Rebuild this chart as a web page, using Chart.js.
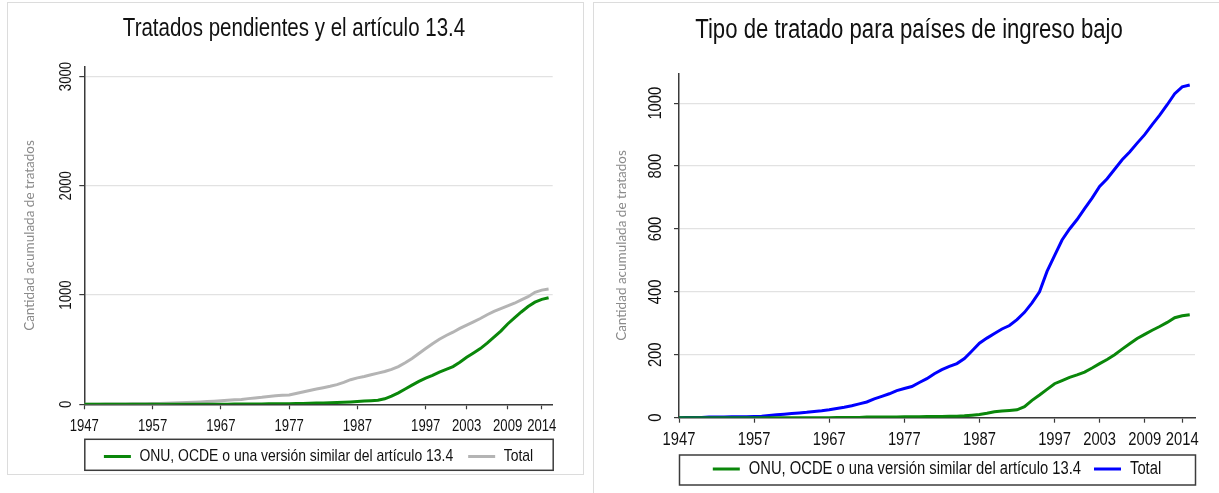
<!DOCTYPE html>
<html>
<head>
<meta charset="utf-8">
<script src="https://cdn.jsdelivr.net/npm/chart.js@4.4.0/dist/chart.umd.min.js"></script>
<style>
  html, body { margin: 0; padding: 0; background: #ffffff; width: 1219px; height: 493px; overflow: hidden; position: relative; }
  .panel { position: absolute; border: 1px solid #dcdcdc; box-sizing: border-box; pointer-events: none; }
  canvas { position: absolute; }
</style>
</head>
<body>
<div class="panel" style="left:7px; top:2px; width:577px; height:473px;"></div>
<div class="panel" style="left:593px; top:2px; width:640px; height:500px;"></div>
<canvas id="left" width="576" height="480" style="left:7px; top:2px;"></canvas>
<canvas id="right" width="626" height="491" style="left:593px; top:2px;"></canvas>
<script>
// ---------------- DATA ----------------
const years = [];
for (let y = 1947; y <= 2015; y++) years.push(y);

const xTickLabels = [1947, 1957, 1967, 1977, 1987, 1997, 2003, 2009, 2014];
const yTicksLeft = [0, 1000, 2000, 3000];
const yTicksRight = [0, 200, 400, 600, 800, 1000];

const seriesLabels = ['ONU, OCDE o una versión similar del artículo 13.4', 'Total'];
const titleLeft = 'Tratados pendientes y el artículo 13.4';
const titleRight = 'Tipo de tratado para países de ingreso bajo';
const yAxisTitle = 'Cantidad acumulada de tratados';

// Left chart: pending treaties (1947..2015)
const leftArticle = [
  0,0,0,0,0,0,0,0,0,0,          // 1947-1956
  0,0,0,0,0,0,0,0,0,1,          // 1957-1966
  1,1,2,2,2,3,3,4,4,5,          // 1967-1976
  6,7,8,10,11,12,14,16,19,22,   // 1977-1986
  26,30,33,37,50,75,105,140,175,210, // 1987-1996
  240,265,295,320,345,385,430,470,510,560, // 1997-2006
  615,670,735,790,845,895,935,960,975      // 2007-2015
];
const leftTotal = [
  0,1,1,2,2,3,3,4,5,6,          // 1947-1956
  7,8,10,12,14,16,19,22,25,29,  // 1957-1966
  33,37,41,45,52,58,64,72,78,82,// 1967-1976
  85,98,112,126,140,152,165,180,200,225, // 1977-1986
  242,255,270,285,300,320,345,380,420,465, // 1987-1996
  510,555,595,630,660,695,725,755,785,820, // 1997-2006
  850,875,900,925,955,985,1025,1045,1055   // 2007-2015
];

// Right chart: low income countries (1947..2015)
const rightArticle = [
  0,0,0,0,0,0,0,0,0,0,          // 1947-1956
  0,0,0,0,0,0,0,0,0,0,          // 1957-1966
  0,1,1,1,1,2,2,2,2,2,          // 1967-1976
  3,3,3,4,4,4,5,5,6,8,          // 1977-1986
  10,14,19,21,23,25,35,55,72,90,// 1987-1996
  108,118,128,136,145,158,172,185,200,218, // 1997-2006
  235,252,265,278,290,303,318,324,327      // 2007-2015
];
const rightTotal = [
  0,1,1,1,2,2,2,3,3,3,          // 1947-1956
  4,5,7,9,11,13,15,17,20,22,    // 1957-1966
  25,29,33,38,44,50,60,68,76,86,// 1967-1976
  93,99,112,124,140,153,163,172,188,212, // 1977-1986
  237,253,268,282,293,312,335,365,400,465, // 1987-1996
  515,565,600,630,665,698,735,760,790,820, // 1997-2006
  845,873,900,932,962,995,1030,1052,1058   // 2007-2015
];

// ---------------- NARROW TEXT (emulates Arial Narrow look) ----------------
const K = 0.82;
(function () {
  const P = CanvasRenderingContext2D.prototype;
  const origFill = P.fillText, origMeasure = P.measureText;
  const isNarrow = ctx => ctx.font.indexOf('Liberation Sans') !== -1;
  P.fillText = function (text, x, y, maxWidth) {
    if (!isNarrow(this)) return arguments.length > 3 ? origFill.call(this, text, x, y, maxWidth) : origFill.call(this, text, x, y);
    this.save();
    this.translate(x, y);
    this.scale(K, 1);
    if (arguments.length > 3 && maxWidth !== undefined) origFill.call(this, text, 0, 0, maxWidth / K);
    else origFill.call(this, text, 0, 0);
    this.restore();
  };
  P.measureText = function (text) {
    const m = origMeasure.call(this, text);
    if (!isNarrow(this)) return m;
    return {
      width: m.width * K,
      actualBoundingBoxLeft: m.actualBoundingBoxLeft * K,
      actualBoundingBoxRight: m.actualBoundingBoxRight * K,
      actualBoundingBoxAscent: m.actualBoundingBoxAscent,
      actualBoundingBoxDescent: m.actualBoundingBoxDescent,
      fontBoundingBoxAscent: m.fontBoundingBoxAscent,
      fontBoundingBoxDescent: m.fontBoundingBoxDescent
    };
  };
})();

// ---------------- STYLE / BUILD ----------------
const NARROW = "'Liberation Sans', Arial, sans-serif";
const GREEN = '#0a870a';
const GRAY = '#b4b4b4';
const BLUE = '#0000ff';
const AXIS = '#3a3a3a';

const toXY = arr => arr.map((v, i) => ({ x: years[i], y: v }));

const legendBox = {
  id: 'legendBox',
  afterDraw(chart, args, opts) {
    const { ctx, chartArea, legend } = chart;
    const top = legend.top + opts.dy;
    ctx.save();
    ctx.strokeStyle = '#3c3c3c';
    ctx.lineWidth = 1.5;
    ctx.strokeRect(chartArea.left + 0.5, top, chartArea.right - chartArea.left, opts.h);
    ctx.restore();
  }
};

function makeChart(id, cfg) {
  return new Chart(document.getElementById(id), {
    type: 'line',
    data: {
      datasets: [
        { label: seriesLabels[0], data: toXY(cfg.article), borderColor: GREEN, backgroundColor: GREEN, borderWidth: 3, pointRadius: 0, tension: 0 },
        { label: seriesLabels[1], data: toXY(cfg.total), borderColor: cfg.totalColor, backgroundColor: cfg.totalColor, borderWidth: 3, pointRadius: 0, tension: 0 }
      ]
    },
    options: {
      responsive: false,
      animation: false,
      devicePixelRatio: 1,
      layout: { padding: { left: cfg.padLeft, right: cfg.padRight, top: 0, bottom: cfg.padBottom } },
      plugins: {
        title: {
          display: true, text: cfg.title, color: '#111',
          font: { family: NARROW, size: cfg.titleSize, weight: 'normal', lineHeight: 1.2 },
          padding: { top: cfg.titlePadTop, bottom: cfg.titlePadBottom }
        },
        legend: {
          position: 'bottom', fullSize: false,
          labels: {
            usePointStyle: true, pointStyle: 'line', pointStyleWidth: 27,
            color: '#111', padding: cfg.legendPad,
            font: { family: NARROW, size: cfg.legendSize }
          }
        },
        tooltip: { enabled: false },
        legendBox: { dy: cfg.boxDy, h: cfg.boxH }
      },
      scales: {
        x: {
          type: 'linear', min: 1947, max: cfg.xMax,
          afterBuildTicks: s => { s.ticks = xTickLabels.map(v => ({ value: v })); },
          afterFit: s => { s.height = cfg.xHeight; },
          grid: { drawOnChartArea: false, drawTicks: true, tickLength: 5, tickColor: AXIS, tickWidth: 1.2 },
          border: { display: true, color: AXIS, width: 1.5 },
          ticks: { autoSkip: false, maxRotation: 0, minRotation: 0, padding: cfg.xTickPad, color: '#111',
                   font: { family: NARROW, size: cfg.tickSize }, callback: v => String(v) }
        },
        y: {
          type: 'linear', min: 0, max: cfg.yMax,
          afterBuildTicks: s => { s.ticks = cfg.yTicks.map(v => ({ value: v })); },
          afterFit: s => { s.width = cfg.yWidth; },
          grid: { color: '#e2e2e2', lineWidth: 1.2, drawTicks: true, tickLength: 5, tickColor: AXIS, tickWidth: 1.2 },
          border: { display: true, color: AXIS, width: 1.5 },
          ticks: { minRotation: 90, maxRotation: 90, crossAlign: 'center', padding: cfg.yTickPad, color: '#111',
                   font: { family: NARROW, size: cfg.tickSize }, callback: v => String(v) },
          title: { display: true, text: yAxisTitle, color: '#8a8a8a',
                   font: { family: "Lato, 'Open Sans', sans-serif", size: 13.5 },
                   padding: { top: cfg.yTitlePad, bottom: 0 } }
        }
      }
    },
    plugins: [legendBox]
  });
}

makeChart('left', {
  article: leftArticle, total: leftTotal, totalColor: GRAY,
  title: titleLeft, titleSize: 25, titlePadTop: 12, titlePadBottom: 22.7,
  legendSize: 17, legendPad: 15, padLeft: 28.3, padRight: 30.3, padBottom: 7,
  xMax: 2015.6, yMax: 3090, yTicks: yTicksLeft,
  xHeight: 28.7, yWidth: 49, tickSize: 16, xTickPad: 7.5, yTickPad: -1.5, yTitlePad: -13.4,
  boxDy: 6.3, boxH: 31
});

makeChart('right', {
  article: rightArticle, total: rightTotal, totalColor: BLUE,
  title: titleRight, titleSize: 27, titlePadTop: 12.8, titlePadBottom: 26.1,
  legendSize: 18, legendPad: 13, padLeft: 30, padRight: 24, padBottom: 5,
  xMax: 2015.7, yMax: 1095, yTicks: yTicksRight,
  xHeight: 29.3, yWidth: 56, tickSize: 18, xTickPad: 7, yTickPad: 1.5, yTitlePad: -9.1,
  boxDy: 8, boxH: 30
});
</script>
</body>
</html>
